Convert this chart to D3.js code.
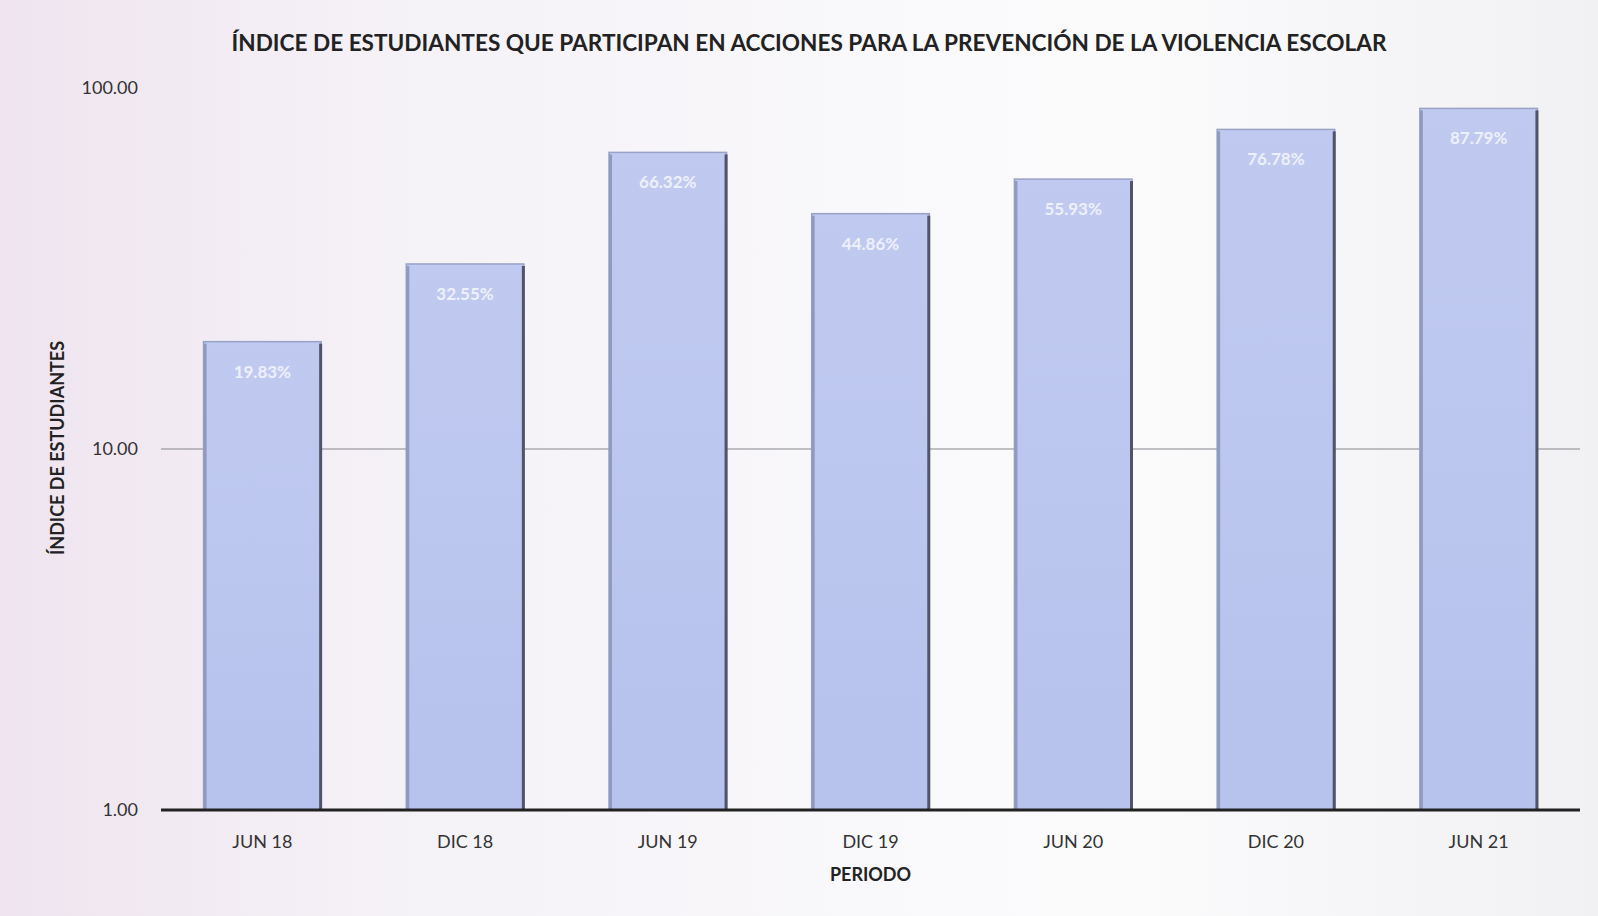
<!DOCTYPE html>
<html>
<head>
<meta charset="utf-8">
<script src="https://cdn.jsdelivr.net/npm/d3@7"></script>
<style>
  body { margin: 0; background: #f6f5f9; }
  svg { display: block; font-family: Lato, "Noto Sans", sans-serif; }
</style>
</head>
<body>
<svg id="chart" width="1598" height="916"></svg>
<script>
const periods = ["JUN 18", "DIC 18", "JUN 19", "DIC 19", "JUN 20", "DIC 20", "JUN 21"];
const values = [19.83, 32.55, 66.32, 44.86, 55.93, 76.78, 87.79];
const yTicks = [1, 10, 100];

const svg = d3.select("#chart"),
    width = +svg.attr("width"),
    height = +svg.attr("height"),
    margin = { top: 88, right: 18, bottom: 106, left: 161 };

// paper-ish background
const defs = svg.append("defs");
const bg = defs.append("linearGradient").attr("id", "paper").attr("x1", 0).attr("x2", 1);
bg.append("stop").attr("offset", "0%").attr("stop-color", "#efe4ef");
bg.append("stop").attr("offset", "25%").attr("stop-color", "#f5f2f7");
bg.append("stop").attr("offset", "70%").attr("stop-color", "#fbfbfc");
bg.append("stop").attr("offset", "100%").attr("stop-color", "#f1f1f4");
svg.append("rect").attr("width", width).attr("height", height).attr("fill", "url(#paper)");

const barGrad = defs.append("linearGradient").attr("id", "bar").attr("x1", 0).attr("x2", 0).attr("y1", 0).attr("y2", 1);
barGrad.append("stop").attr("offset", "0%").attr("stop-color", "#c0caf0");
barGrad.append("stop").attr("offset", "100%").attr("stop-color", "#b7c2ed");

const x = d3.scaleBand()
    .domain(periods)
    .range([margin.left, width - margin.right])
    .paddingInner(0.42)
    .paddingOuter(0.21);

const y = d3.scaleLog()
    .domain([1, 100])
    .range([height - margin.bottom, margin.top]);

// gridline at 10
svg.append("g")
    .selectAll("line")
    .data(yTicks.filter(t => t === 10))
    .join("line")
    .attr("x1", margin.left)
    .attr("x2", width - margin.right)
    .attr("y1", d => y(d))
    .attr("y2", d => y(d))
    .attr("stroke", "#85858c")
    .attr("stroke-width", 1);

// y tick labels
svg.append("g")
    .selectAll("text")
    .data(yTicks)
    .join("text")
    .attr("x", 138)
    .attr("y", d => y(d))
    .attr("dy", "0.35em")
    .attr("text-anchor", "end")
    .style("font-size", "18px")
    .style("fill", "#333")
    .text(d => d3.format(".2f")(d));

// bars
const bars = svg.append("g")
    .selectAll("g")
    .data(periods.map((p, i) => ({ p, v: values[i] })))
    .join("g");

bars.append("rect")
    .attr("x", d => x(d.p))
    .attr("y", d => y(d.v))
    .attr("width", x.bandwidth())
    .attr("height", d => y(1) - y(d.v))
    .attr("fill", "url(#bar)")
    .attr("stroke", "#98a2c6")
    .attr("stroke-width", 1.5);

// left shade
bars.append("rect")
    .attr("x", d => x(d.p))
    .attr("y", d => y(d.v) + 2)
    .attr("width", 3)
    .attr("height", d => y(1) - y(d.v) - 2)
    .attr("fill", "#8f99c2");

// dark right edge
bars.append("rect")
    .attr("x", d => x(d.p) + x.bandwidth() - 2)
    .attr("y", d => y(d.v) + 2)
    .attr("width", 3)
    .attr("height", d => y(1) - y(d.v) - 2)
    .attr("fill", "#4f5468");

bars.append("text")
    .attr("x", d => x(d.p) + x.bandwidth() / 2)
    .attr("y", d => y(d.v) + 36)
    .attr("text-anchor", "middle")
    .style("font-size", "17px")
    .style("font-weight", "bold")
    .style("fill", "#eef0fa")
    .text(d => d.v.toFixed(2) + "%");

// x axis line
svg.append("line")
    .attr("x1", margin.left)
    .attr("x2", width - margin.right)
    .attr("y1", y(1))
    .attr("y2", y(1))
    .attr("stroke", "#222")
    .attr("stroke-width", 3);

// x labels
svg.append("g")
    .selectAll("text")
    .data(periods)
    .join("text")
    .attr("x", d => x(d) + x.bandwidth() / 2)
    .attr("y", 848)
    .attr("text-anchor", "middle")
    .style("font-size", "18px")
    .style("fill", "#333")
    .text(d => d);

// axis titles
svg.append("text")
    .attr("x", x(periods[3]) + x.bandwidth() / 2)
    .attr("y", 881)
    .attr("text-anchor", "middle")
    .style("font-size", "18px")
    .style("font-weight", "bold")
    .style("fill", "#222")
    .text("PERIODO");

svg.append("text")
    .attr("transform", "translate(64,448) rotate(-90)")
    .attr("text-anchor", "middle")
    .style("font-size", "18px")
    .style("font-weight", "bold")
    .style("fill", "#222")
    .text("ÍNDICE DE ESTUDIANTES");

// title
svg.append("text")
    .attr("x", 809)
    .attr("y", 51)
    .attr("text-anchor", "middle")
    .style("font-size", "22.6px")
    .style("font-weight", "bold")
    .style("fill", "#222")
    .text("ÍNDICE DE ESTUDIANTES QUE PARTICIPAN EN ACCIONES PARA LA PREVENCIÓN DE LA VIOLENCIA ESCOLAR");
</script>
</body>
</html>
